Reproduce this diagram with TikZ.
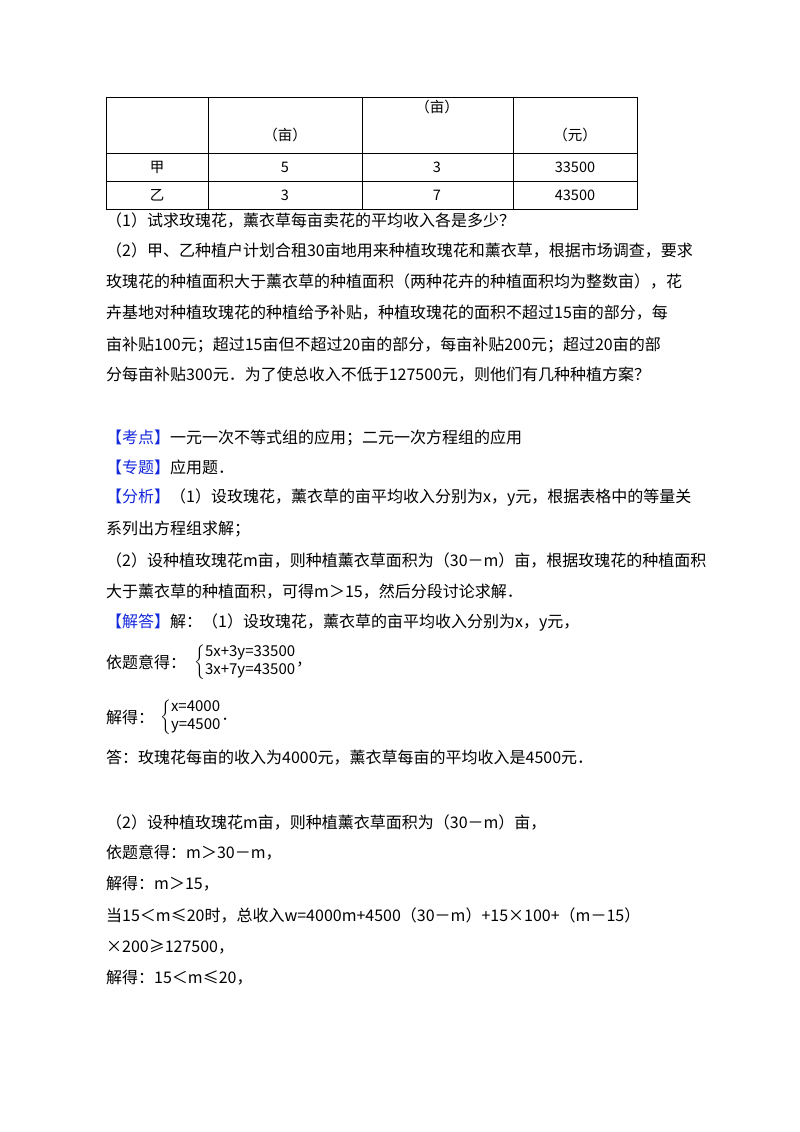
\documentclass[tikz,border=0pt]{standalone}
\usepackage{fontspec}
\setmainfont{Noto Sans CJK SC}
\usepackage{amsmath}
\definecolor{kblue}{RGB}{20,40,220}
\begin{document}
\begin{tikzpicture}[x=1pt,y=-1pt,
  txt/.style={anchor=west,inner sep=0pt,font=\fontsize{16}{19}\selectfont},
  cell/.style={inner sep=0pt,font=\fontsize{14.5}{17}\selectfont},
  eq/.style={anchor=west,inner sep=0pt,font=\fontsize{15}{18}\selectfont}]
\fill[white] (0,0) rectangle (800,1132);
\useasboundingbox (0,0) rectangle (800,1132);
% table
\draw[line width=0.8pt] (106,97) rectangle (637,209);
\draw[line width=0.8pt] (106,153) -- (637,153) (106,181) -- (637,181)
  (208,97) -- (208,209) (362,97) -- (362,209) (513,97) -- (513,209);
\node[cell] (h1) at (285,135) {（亩）};
\node[cell] (h2) at (437,107) {（亩）};
\node[cell] (h3) at (575,135) {（元）};
\node[cell] (r1a) at (157,167) {甲};
\node[cell] (r1b) at (285,167) {5};
\node[cell] (r1c) at (437,167) {3};
\node[cell] (r1d) at (575,167) {33500};
\node[cell] (r2a) at (157,195) {乙};
\node[cell] (r2b) at (285,195) {3};
\node[cell] (r2c) at (437,195) {7};
\node[cell] (r2d) at (575,195) {43500};
\newcommand{\kb}[1]{\textcolor{kblue}{【#1】}}
\node[txt] (l1) at (106,221) {（1）试求玫瑰花，薰衣草每亩卖花的平均收入各是多少？};
\node[txt] (l2) at (106,251) {（2）甲、乙种植户计划合租30亩地用来种植玫瑰花和薰衣草，根据市场调查，要求};
\node[txt] (l3) at (106,282) {玫瑰花的种植面积大于薰衣草的种植面积（两种花卉的种植面积均为整数亩），花};
\node[txt] (l4) at (106,313) {卉基地对种植玫瑰花的种植给予补贴，种植玫瑰花的面积不超过15亩的部分，每};
\node[txt] (l5) at (106,345) {亩补贴100元；超过15亩但不超过20亩的部分，每亩补贴200元；超过20亩的部};
\node[txt] (l6) at (106,375) {分每亩补贴300元．为了使总收入不低于127500元，则他们有几种种植方案？};
\node[txt] (l7) at (106,438) {\kb{考点}一元一次不等式组的应用；二元一次方程组的应用};
\node[txt] (l8) at (106,467) {\kb{专题}应用题．};
\node[txt] (l9) at (106,498) {\kb{分析}（1）设玫瑰花，薰衣草的亩平均收入分别为x，y元，根据表格中的等量关};
\node[txt] (l10) at (106,529) {系列出方程组求解；};
\node[txt] (l11) at (106,561) {（2）设种植玫瑰花m亩，则种植薰衣草面积为（30－m）亩，根据玫瑰花的种植面积};
\node[txt] (l12) at (106,592) {大于薰衣草的种植面积，可得m＞15，然后分段讨论求解．};
\node[txt] (l13) at (106,623) {\kb{解答}解：（1）设玫瑰花，薰衣草的亩平均收入分别为x，y元，};
\node[txt] (l14) at (106,662) {依题意得：};
\node[eq] (e1) at (194,662) {$\left\{\begin{array}{@{}l@{}}\text{5x+3y=33500}\\ \text{3x+7y=43500}\end{array}\right.$，};
\node[txt] (l15) at (106,717) {解得：};
\node[eq] (e2) at (160,717) {$\left\{\begin{array}{@{}l@{}}\text{x=4000}\\ \text{y=4500}\end{array}\right.$．};
\node[txt] (l16) at (106,758) {答：玫瑰花每亩的收入为4000元，薰衣草每亩的平均收入是4500元．};
\node[txt] (l17) at (106,822) {（2）设种植玫瑰花m亩，则种植薰衣草面积为（30－m）亩，};
\node[txt] (l18) at (106,853) {依题意得：m＞30－m，};
\node[txt] (l19) at (106,884) {解得：m＞15，};
\node[txt] (l20) at (106,915) {当15＜m≤20时，总收入w=4000m+4500（30－m）+15×100+（m－15）};
\node[txt] (l21) at (106,947) {×200≥127500，};
\node[txt] (l22) at (106,978) {解得：15＜m≤20，};
\end{tikzpicture}
\end{document}
